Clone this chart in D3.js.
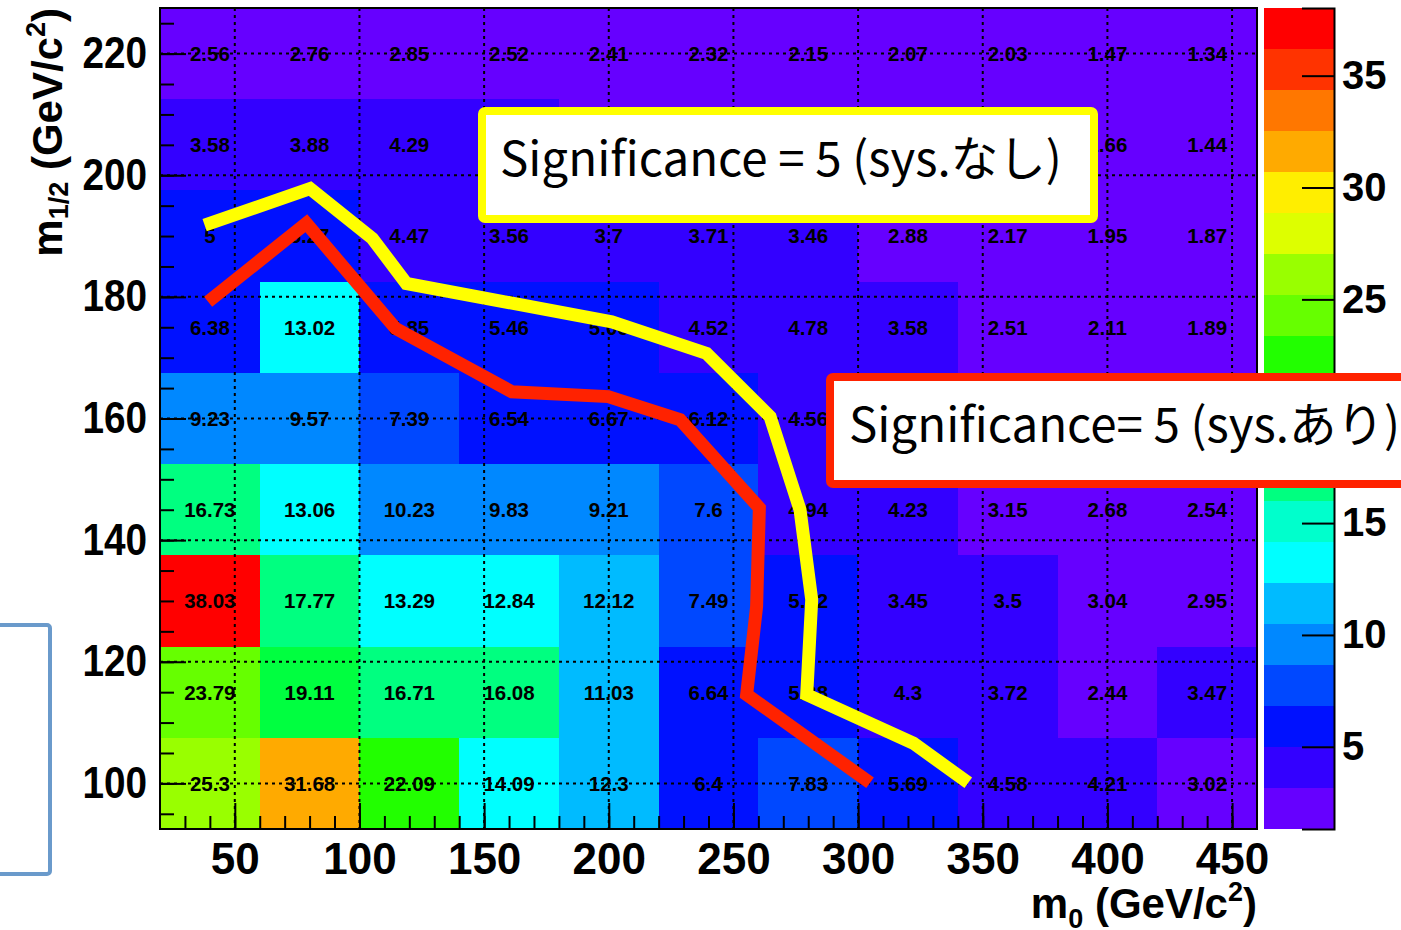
<!DOCTYPE html>
<html>
<head>
<meta charset="utf-8">
<script src="https://cdn.jsdelivr.net/npm/d3@7"></script>
<style>
  body { margin: 0; background: #fff; }
  svg { display: block; }
  .cell-text { font-family: "Liberation Sans", Arial, sans-serif; font-weight: bold; font-size: 20.5px; }
  .tick-label { font-family: "Liberation Sans", Arial, sans-serif; font-weight: bold; font-size: 44px; }
  .z-label { font-family: "Liberation Sans", Arial, sans-serif; font-weight: bold; font-size: 40px; }
  .title { font-family: "Liberation Sans", Arial, sans-serif; font-weight: bold; font-size: 42px; }
  .note { font-family: "Noto Sans CJK JP", "Noto Sans", sans-serif; font-size: 47.5px; }
</style>
</head>
<body>
<script>
// bin centres (GeV/c^2)
var m0Bins = [40, 80, 120, 160, 200, 240, 280, 320, 360, 400, 440];
var mHalfBins = [100, 115, 130, 145, 160, 175, 190, 205, 220];

// significance per bin, one row per m1/2 bin (bottom to top)
var sigRow100 = [25.3, 31.68, 22.09, 14.09, 12.3, 6.4, 7.83, 5.69, 4.58, 4.21, 3.02];
var sigRow115 = [23.79, 19.11, 16.71, 16.08, 11.03, 6.64, 5.38, 4.3, 3.72, 2.44, 3.47];
var sigRow130 = [38.03, 17.77, 13.29, 12.84, 12.12, 7.49, 5.52, 3.45, 3.5, 3.04, 2.95];
var sigRow145 = [16.73, 13.06, 10.23, 9.83, 9.21, 7.6, 4.94, 4.23, 3.15, 2.68, 2.54];
var sigRow160 = [9.23, 9.57, 7.39, 6.54, 6.67, 6.12, 4.56, 3.9, 2.95, 2.4, 2.2];
var sigRow175 = [6.38, 13.02, 5.85, 5.46, 5.06, 4.52, 4.78, 3.58, 2.51, 2.11, 1.89];
var sigRow190 = [5, 5.27, 4.47, 3.56, 3.7, 3.71, 3.46, 2.88, 2.17, 1.95, 1.87];
var sigRow205 = [3.58, 3.88, 4.29, 3.4, 3.05, 2.95, 2.75, 2.55, 2.3, 1.66, 1.44];
var sigRow220 = [2.56, 2.76, 2.85, 2.52, 2.41, 2.32, 2.15, 2.07, 2.03, 1.47, 1.34];
var sigRows = [sigRow100, sigRow115, sigRow130, sigRow145, sigRow160, sigRow175, sigRow190, sigRow205, sigRow220];

// 5 sigma contours drawn by hand on the plot
var noSysM0 = [37.9, 80.2, 105.2, 118.8, 201.2, 239.2, 264.7, 276.7, 281.4, 279.4, 322.2, 344.2];
var noSysMHalf = [191.8, 197.8, 189.6, 182.2, 175.9, 170.7, 160.3, 145.0, 130.2, 114.6, 106.6, 100.1];
var sysM0 = [39.3, 78.7, 114.5, 161.1, 199.8, 228.6, 260.4, 259.3, 255.3, 304.8];
var sysMHalf = [179.2, 192.1, 174.8, 164.4, 163.6, 159.8, 145.3, 129.1, 114.6, 100.1];

var xTicks = [50, 100, 150, 200, 250, 300, 350, 400, 450];
var yTicks = [100, 120, 140, 160, 180, 200, 220];
var zTicks = [5, 10, 15, 20, 25, 30, 35];

// ROOT "pretty" palette, 20 contour levels (low to high)
var palette = ["#6600ff", "#3300ff", "#0011ff", "#0048ff", "#0088ff", "#00bbff", "#00ffff",
               "#00ffcc", "#00ff80", "#00ff40", "#00ff11", "#22ff00", "#66ff00", "#99ff00",
               "#ddff00", "#ffee00", "#ffaa00", "#ff7700", "#ff3300", "#ff0000"];

(function() {
  var cells = [];
  sigRows.forEach(function(row, j) {
    row.forEach(function(v, i) {
      cells.push({ m0: m0Bins[i], mh: mHalfBins[j], v: v });
    });
  });

  var pLeft = 160, pRight = 1257, pTop = 8, pBottom = 829;
  var x = d3.scaleLinear().domain([20, 460]).range([pLeft, pRight]);
  var y = d3.scaleLinear().domain([92.5, 227.5]).range([pBottom, pTop]);
  var zDomain = [1.325, 38.025];
  var z = d3.scaleLinear().domain(zDomain).range([pBottom, pTop]);
  var color = d3.scaleQuantize().domain(zDomain).range(palette);

  var svg = d3.select("body").append("svg")
      .attr("width", 1401)
      .attr("height", 930);

  // cells
  svg.append("g").selectAll("rect")
      .data(cells)
      .enter()
    .append("rect")
      .attr("x", function(d) { return x(d.m0 - 20); })
      .attr("y", function(d) { return y(d.mh + 7.5); })
      .attr("width", function(d) { return x(d.m0 + 20) - x(d.m0 - 20); })
      .attr("height", function(d) { return y(d.mh - 7.5) - y(d.mh + 7.5); })
      .attr("fill", function(d) { return color(d.v); })
      .attr("shape-rendering", "crispEdges");

  // dotted grid
  var grid = svg.append("g")
      .attr("stroke", "#000")
      .attr("stroke-width", 2)
      .attr("stroke-dasharray", "3,4");
  grid.selectAll("line.gx").data(xTicks).enter().append("line")
      .attr("x1", function(d) { return x(d); }).attr("x2", function(d) { return x(d); })
      .attr("y1", pTop).attr("y2", pBottom);
  grid.selectAll("line.gy").data(yTicks).enter().append("line")
      .attr("y1", function(d) { return y(d); }).attr("y2", function(d) { return y(d); })
      .attr("x1", pLeft).attr("x2", pRight);

  // values
  svg.append("g").selectAll("text")
      .data(cells)
      .enter()
    .append("text")
      .attr("class", "cell-text")
      .attr("x", function(d) { return x(d.m0); })
      .attr("y", function(d) { return y(d.mh); })
      .attr("dy", "0.36em")
      .attr("text-anchor", "middle")
      .text(function(d) { return d.v; });

  // axes
  function styleAxis(g) {
    g.select(".domain").remove();
    g.selectAll(".tick line").attr("stroke", "#000").attr("stroke-width", 2);
    g.selectAll(".tick text").attr("class", "tick-label").attr("fill", "#000");
  }

  svg.append("g")
      .attr("transform", "translate(0," + pBottom + ")")
      .call(d3.axisBottom(x).tickValues(d3.range(30, 460, 10)).tickSize(-13).tickFormat(""))
      .call(styleAxis);
  svg.append("g")
      .attr("transform", "translate(0," + pBottom + ")")
      .call(d3.axisBottom(x).tickValues(xTicks).tickSize(-26).tickPadding(14))
      .call(styleAxis);

  svg.append("g")
      .attr("transform", "translate(" + pLeft + ",0)")
      .call(d3.axisLeft(y).tickValues(d3.range(95, 227, 5)).tickSize(-14).tickFormat(""))
      .call(styleAxis);
  var yAxis = svg.append("g")
      .attr("transform", "translate(" + pLeft + ",0)")
      .call(d3.axisLeft(y).tickValues(yTicks).tickSize(-26).tickPadding(13))
      .call(styleAxis);
  // the y labels are a little narrower in the original
  yAxis.selectAll(".tick text")
      .attr("textLength", function() { return this.getComputedTextLength() * 0.88; })
      .attr("lengthAdjust", "spacingAndGlyphs");

  svg.append("rect")
      .attr("x", pLeft).attr("y", pTop)
      .attr("width", pRight - pLeft).attr("height", pBottom - pTop)
      .attr("fill", "none").attr("stroke", "#000").attr("stroke-width", 2);

  // axis titles
  var xt = svg.append("text").attr("class", "title")
      .attr("x", pRight).attr("y", 918).attr("text-anchor", "end");
  xt.append("tspan").text("m");
  xt.append("tspan").attr("font-size", "27px").attr("dy", 10).text("0");
  xt.append("tspan").attr("dy", -10).text(" (GeV/c");
  xt.append("tspan").attr("font-size", "27px").attr("dy", -17).text("2");
  xt.append("tspan").attr("dy", 17).text(")");

  var yt = svg.append("text").attr("class", "title")
      .attr("transform", "translate(62," + pTop + ") rotate(-90)")
      .attr("text-anchor", "end");
  yt.append("tspan").text("m");
  yt.append("tspan").attr("font-size", "27px").attr("dy", 6).text("1/2");
  yt.append("tspan").attr("dy", -6).text(" (GeV/c");
  yt.append("tspan").attr("font-size", "27px").attr("dy", -17).text("2");
  yt.append("tspan").attr("dy", 17).text(")");

  // colour bar
  var barLeft = 1264, barRight = 1334;
  var step = (zDomain[1] - zDomain[0]) / palette.length;
  svg.append("g").selectAll("rect")
      .data(palette)
      .enter()
    .append("rect")
      .attr("x", barLeft)
      .attr("y", function(d, i) { return z(zDomain[0] + (i + 1) * step); })
      .attr("width", barRight - barLeft)
      .attr("height", function(d, i) { return z(zDomain[0] + i * step) - z(zDomain[0] + (i + 1) * step); })
      .attr("fill", function(d) { return d; })
      .attr("shape-rendering", "crispEdges");

  var zAxis = svg.append("g")
      .attr("transform", "translate(" + barRight + ",0)")
      .call(d3.axisRight(z).tickValues(zTicks).tickSize(-32).tickPadding(8));
  zAxis.select(".domain").attr("stroke", "#000").attr("stroke-width", 2);
  zAxis.selectAll(".tick line").attr("stroke", "#000").attr("stroke-width", 2);
  zAxis.selectAll(".tick text").attr("class", "z-label").attr("fill", "#000");

  // contour lines
  var line = d3.line()
      .x(function(d) { return x(d[0]); })
      .y(function(d) { return y(d[1]); });

  svg.append("path")
      .datum(d3.zip(sysM0, sysMHalf))
      .attr("d", line)
      .attr("fill", "none")
      .attr("stroke", "#ff2200")
      .attr("stroke-width", 13)
      .attr("stroke-linejoin", "miter");

  svg.append("path")
      .datum(d3.zip(noSysM0, noSysMHalf))
      .attr("d", line)
      .attr("fill", "none")
      .attr("stroke", "#ffff00")
      .attr("stroke-width", 13)
      .attr("stroke-linejoin", "miter");

  // labels
  svg.append("rect")
      .attr("x", 482).attr("y", 111).attr("width", 612).attr("height", 108)
      .attr("rx", 3)
      .attr("fill", "#fff").attr("stroke", "#ffff00").attr("stroke-width", 8);
  svg.append("text").attr("class", "note")
      .attr("x", 500).attr("y", 176)
      .text("Significance = 5 (sys.なし)");

  svg.append("rect")
      .attr("x", 830).attr("y", 377).attr("width", 620).attr("height", 107)
      .attr("rx", 3)
      .attr("fill", "#fff").attr("stroke", "#ff2200").attr("stroke-width", 8);
  svg.append("text").attr("class", "note")
      .attr("x", 849).attr("y", 442)
      .text("Significance= 5 (sys.あり)");

  // stray frame at the left edge
  svg.append("rect")
      .attr("x", -10).attr("y", 625).attr("width", 60).attr("height", 249)
      .attr("rx", 3)
      .attr("fill", "none").attr("stroke", "#6a9acb").attr("stroke-width", 4);
})();
</script>
</body>
</html>
